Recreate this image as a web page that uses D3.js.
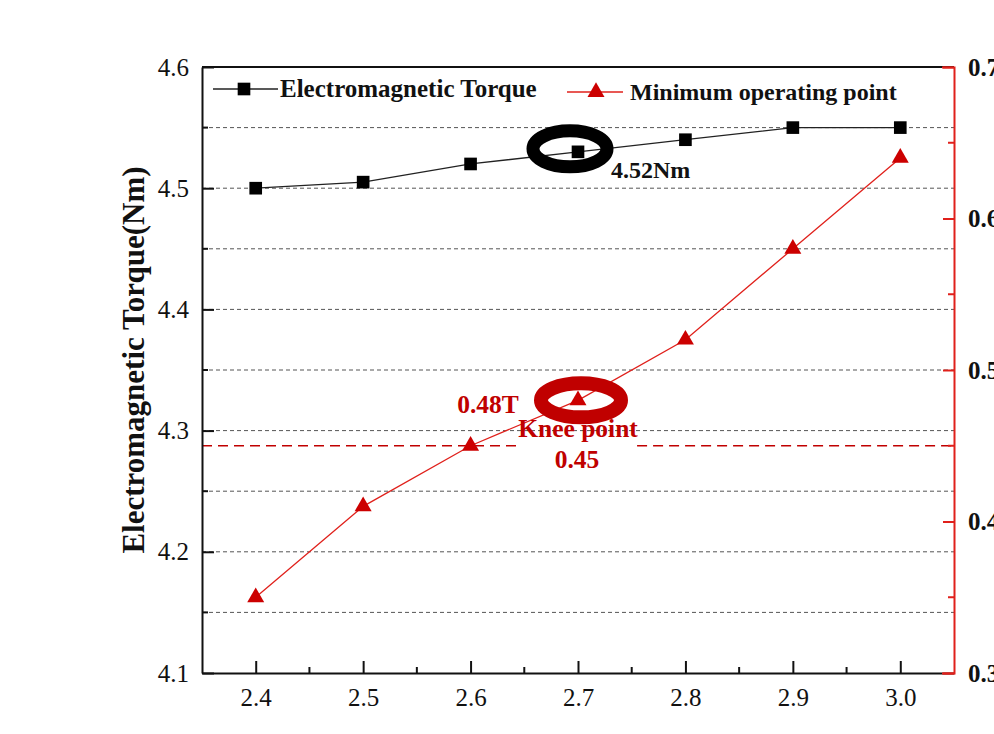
<!DOCTYPE html>
<html>
<head>
<meta charset="utf-8">
<script src="https://cdn.jsdelivr.net/npm/d3@7"></script>
<style>
  body { margin: 0; background: #fff; }
  svg { display: block; font-family: "Liberation Serif", "Times New Roman", serif; }
</style>
</head>
<body>
<svg id="chart" width="994" height="734"></svg>
<script>
// data
const currentDensity = [2.4, 2.5, 2.6, 2.7, 2.8, 2.9, 3.0];
const torqueValues = [4.50, 4.505, 4.52, 4.53, 4.54, 4.55, 4.55];
const operatingPoint = [0.35, 0.41, 0.45, 0.48, 0.52, 0.58, 0.64];
const xTickValues = [2.4, 2.5, 2.6, 2.7, 2.8, 2.9, 3.0];
const leftTickValues = [4.1, 4.2, 4.3, 4.4, 4.5, 4.6];
const rightTickValues = [0.3, 0.4, 0.5, 0.6, 0.7];
const gridValues = [4.15, 4.2, 4.25, 4.3, 4.35, 4.4, 4.45, 4.5, 4.55];
const kneeValue = 0.45;
const seriesNames = ["Electromagnetic Torque", "Minimum operating point"];

const red = "#e0201b";
const darkRed = "#c00000";

const svg = d3.select("#chart");
const plotLeft = 202, plotRight = 954, plotTop = 67, plotBottom = 673;

const x = d3.scaleLinear().domain([2.35, 3.05]).range([plotLeft, plotRight]);
const yL = d3.scaleLinear().domain([4.1, 4.6]).range([plotBottom, plotTop]);
const yR = d3.scaleLinear().domain([0.3, 0.7]).range([plotBottom, plotTop]);

// dashed grid
svg.append("g")
    .selectAll("line")
    .data(gridValues)
    .enter()
    .append("line")
    .attr("x1", plotLeft).attr("x2", plotRight)
    .attr("y1", d => yL(d)).attr("y2", d => yL(d))
    .attr("stroke", "#555")
    .attr("stroke-width", 1)
    .attr("stroke-dasharray", "4,3");

// knee point dashed line (gap behind label)
const kneeSegments = [[2.35, 2.643], [2.755, 3.05]];
svg.append("g")
    .selectAll("line")
    .data(kneeSegments)
    .enter()
    .append("line")
    .attr("x1", d => x(d[0])).attr("x2", d => x(d[1]))
    .attr("y1", yR(kneeValue)).attr("y2", yR(kneeValue))
    .attr("stroke", darkRed)
    .attr("stroke-width", 1.3)
    .attr("stroke-dasharray", "10,6");

// top frame
svg.append("line")
    .attr("x1", plotLeft).attr("x2", plotRight)
    .attr("y1", plotTop).attr("y2", plotTop)
    .attr("stroke", "#111").attr("stroke-width", 2);

// bottom axis
const xAxis = svg.append("g")
    .attr("transform", `translate(0,${plotBottom})`)
    .call(d3.axisBottom(x).tickValues(xTickValues).tickFormat(d3.format(".1f"))
        .tickSizeInner(-12).tickSizeOuter(0).tickPadding(15));
xAxis.append("g").selectAll("line")
    .data([2.45, 2.55, 2.65, 2.75, 2.85, 2.95])
    .enter().append("line")
    .attr("x1", d => x(d)).attr("x2", d => x(d))
    .attr("y1", 0).attr("y2", -6)
    .attr("stroke", "#111").attr("stroke-width", 2);

// left axis
const leftAxis = svg.append("g")
    .attr("transform", `translate(${plotLeft},0)`)
    .call(d3.axisLeft(yL).tickValues(leftTickValues).tickFormat(d3.format(".1f"))
        .tickSizeInner(-12).tickSizeOuter(0).tickPadding(13));
leftAxis.append("g").selectAll("line")
    .data(gridValues.filter(v => Math.round(v * 100) % 10 !== 0))
    .enter().append("line")
    .attr("x1", 0).attr("x2", 6)
    .attr("y1", d => yL(d)).attr("y2", d => yL(d))
    .attr("stroke", "#111").attr("stroke-width", 2);

[xAxis, leftAxis].forEach(function (g) {
    g.select(".domain").attr("stroke", "#111").attr("stroke-width", 2);
    g.selectAll(".tick line").attr("stroke", "#111").attr("stroke-width", 2);
    g.selectAll(".tick text")
        .attr("font-family", "Liberation Serif, Times New Roman, serif")
        .attr("font-size", 25)
        .attr("fill", "#111");
});

// right axis (red)
const rightAxis = svg.append("g")
    .attr("transform", `translate(${plotRight},0)`)
    .call(d3.axisRight(yR).tickValues(rightTickValues).tickFormat(d3.format(".1f"))
        .tickSizeInner(-11).tickSizeOuter(-12).tickPadding(14));
rightAxis.append("g").selectAll("line")
    .data([0.35, 0.45, 0.55, 0.65])
    .enter().append("line")
    .attr("x1", 0).attr("x2", -6)
    .attr("y1", d => yR(d)).attr("y2", d => yR(d))
    .attr("stroke", red).attr("stroke-width", 2);
rightAxis.select(".domain").attr("stroke", red).attr("stroke-width", 2);
rightAxis.selectAll(".tick line").attr("stroke", red).attr("stroke-width", 2);
rightAxis.selectAll(".tick text")
    .attr("font-family", "Liberation Serif, Times New Roman, serif")
    .attr("font-size", 25)
    .attr("font-weight", "bold")
    .attr("fill", "#111");

// left axis title
svg.append("text")
    .attr("transform", "translate(144,360) rotate(-90)")
    .attr("text-anchor", "middle")
    .attr("font-size", 31)
    .attr("font-weight", "bold")
    .attr("fill", "#111")
    .text("Electromagnetic Torque(Nm)");

// series lines
const torqueLine = d3.line().x((d, i) => x(currentDensity[i])).y(d => yL(d));
const opLine = d3.line().x((d, i) => x(currentDensity[i])).y(d => yR(d));

svg.append("path")
    .datum(torqueValues)
    .attr("d", torqueLine)
    .attr("fill", "none")
    .attr("stroke", "#222")
    .attr("stroke-width", 1.3);

svg.append("path")
    .datum(operatingPoint)
    .attr("d", opLine)
    .attr("fill", "none")
    .attr("stroke", red)
    .attr("stroke-width", 1.3);

const square = d3.symbol().type(d3.symbolSquare).size(160);
const triangle = d3.symbol().type(d3.symbolTriangle).size(125);

svg.append("g")
    .selectAll("path")
    .data(torqueValues)
    .enter()
    .append("path")
    .attr("d", square)
    .attr("transform", (d, i) => `translate(${x(currentDensity[i])},${yL(d)})`)
    .attr("fill", "#000");

svg.append("g")
    .selectAll("path")
    .data(operatingPoint)
    .enter()
    .append("path")
    .attr("d", triangle)
    .attr("transform", (d, i) => `translate(${x(currentDensity[i])},${yR(d)})`)
    .attr("fill", "#cc0000");

// annotations
const px = x(2.7);
svg.append("ellipse")
    .attr("cx", px - 8).attr("cy", yL(4.53) - 3)
    .attr("rx", 37).attr("ry", 18)
    .attr("fill", "none").attr("stroke", "#000").attr("stroke-width", 13);
svg.append("text")
    .attr("x", px + 33).attr("y", 178)
    .attr("font-size", 24).attr("font-weight", "bold").attr("fill", "#111")
    .text("4.52Nm");

svg.append("ellipse")
    .attr("cx", px + 3).attr("cy", yR(0.48))
    .attr("rx", 40).attr("ry", 17)
    .attr("fill", "none").attr("stroke", darkRed).attr("stroke-width", 14);

const redLabels = [
    { text: "0.48T", x: 488, y: 413 },
    { text: "Knee point", x: 578, y: 437 },
    { text: "0.45", x: 577, y: 468 }
];
svg.append("g")
    .selectAll("text")
    .data(redLabels)
    .enter()
    .append("text")
    .attr("x", d => d.x).attr("y", d => d.y)
    .attr("text-anchor", "middle")
    .attr("font-size", 25.5)
    .attr("font-weight", "bold")
    .attr("fill", darkRed)
    .text(d => d.text);

// legend
const legend = svg.append("g");
legend.append("line").attr("x1", 213).attr("x2", 278).attr("y1", 89).attr("y2", 89)
    .attr("stroke", "#222").attr("stroke-width", 1.3);
legend.append("path").attr("d", square).attr("transform", "translate(244,89)").attr("fill", "#000");
legend.append("text").attr("x", 280).attr("y", 97)
    .attr("font-size", 25).attr("font-weight", "bold").attr("fill", "#111")
    .text(seriesNames[0]);

legend.append("line").attr("x1", 567).attr("x2", 623).attr("y1", 92).attr("y2", 92)
    .attr("stroke", red).attr("stroke-width", 1.3);
legend.append("path").attr("d", triangle).attr("transform", "translate(596,92)").attr("fill", "#cc0000");
legend.append("text").attr("x", 630).attr("y", 100)
    .attr("font-size", 24).attr("font-weight", "bold").attr("fill", "#111")
    .text(seriesNames[1]);
</script>
</body>
</html>
